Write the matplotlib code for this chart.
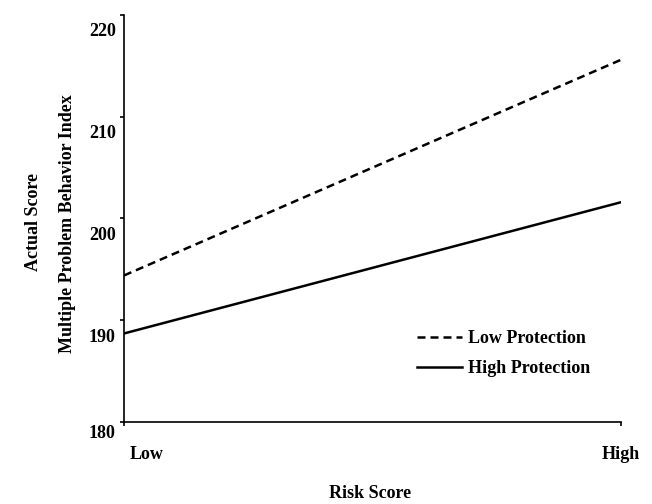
import numpy as np
import matplotlib.pyplot as plt
import matplotlib.transforms as mtransforms

# values
risk_levels = ["Low", "High"]
low_protection = [194.4, 215.6]
high_protection = [188.7, 201.6]
y_ticks = [180, 190, 200, 210, 220]

plt.rcParams['font.family'] = ['Liberation Serif', 'DejaVu Serif']
plt.rcParams['font.weight'] = 'bold'
plt.rcParams['font.size'] = 13

fig = plt.figure(figsize=(6.52, 5.04), dpi=100)
ax = fig.add_axes([124/652, 82/504, 497/652, 407/504])

xs = np.arange(len(risk_levels))
ax.plot(xs, low_protection, color='black', lw=1.8, linestyle=(0, (3.2, 2.0)),
        label="Low Protection")
ax.plot(xs, high_protection, color='black', lw=1.8, label="High Protection")

ax.set_xlim(0, 1)
ax.set_ylim(180, 220)
ax.set_yticks(y_ticks)
ax.set_xticks(xs)
ax.set_xticklabels(risk_levels)

for side in ['top', 'right']:
    ax.spines[side].set_visible(False)
for side in ['left', 'bottom']:
    ax.spines[side].set_linewidth(1.2)
ax.tick_params(axis='both', direction='out', length=3, width=1.2, color='black')
ax.tick_params(axis='y', pad=3)
ax.tick_params(axis='x', pad=14)

# labels in the scan sit below their ticks (offsets in pixels / 100)
for lab in ax.get_yticklabels():
    dy = -10/100 if lab.get_text() == '180' else -15/100
    lab.set_transform(lab.get_transform() +
                      mtransforms.ScaledTranslation(0, dy, fig.dpi_scale_trans))
x_shift = [23/100, 0]
for lab, dx in zip(ax.get_xticklabels(), x_shift):
    lab.set_transform(lab.get_transform() +
                      mtransforms.ScaledTranslation(dx, 0, fig.dpi_scale_trans))

fig.text(34/652, 1 - 222/504, "Actual Score", rotation=90, ha='center', va='center')
fig.text(67/652, 1 - 224/504, "Multiple Problem Behavior Index", rotation=90,
         ha='center', va='center')
fig.text(370/652, 1 - 493/504, "Risk Score", ha='center', va='center')

ax.legend(loc='upper left', bbox_to_anchor=(0.59, 0.225), frameon=False,
          borderpad=0, borderaxespad=0, handlelength=2.5, handletextpad=0.3,
          labelspacing=0.72)

fig.savefig("out.png", dpi=100)
